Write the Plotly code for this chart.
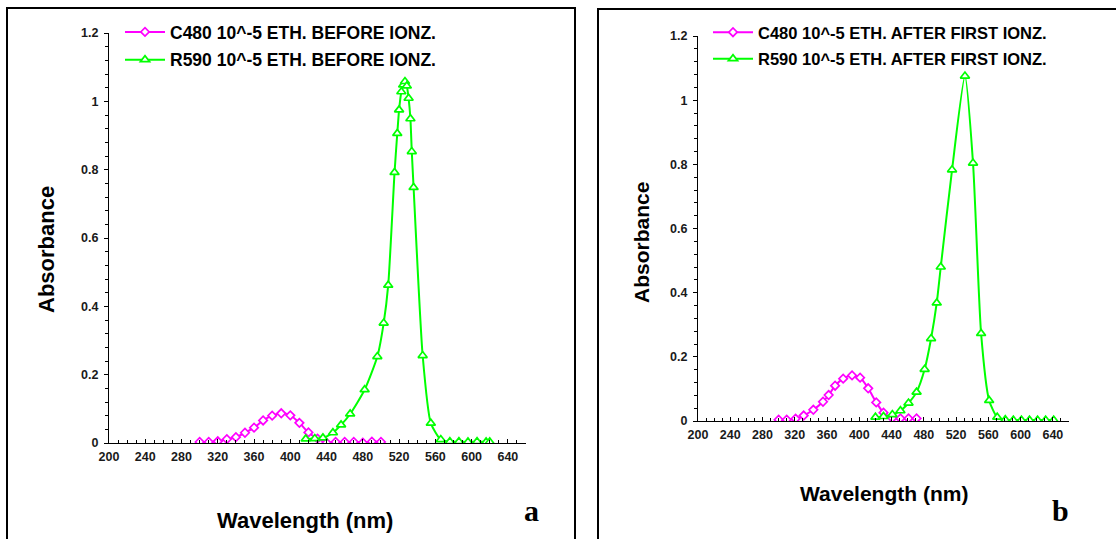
import plotly.graph_objects as go

# ---- Panel a: before ionization ----
c480_before_nm = [300, 310, 320, 330, 340, 350, 360, 370, 380, 390, 400,
                  410, 420, 430, 440, 450, 460, 470, 480, 490, 500]
c480_before_abs = [0.003, 0.003, 0.005, 0.011, 0.017, 0.030, 0.045, 0.066, 0.080, 0.087, 0.081,
                   0.059, 0.031, 0.013, 0.001, 0.003, 0.003, 0.003, 0.001, 0.004, 0.003]

r590_before_nm = [417, 427, 436, 447, 456, 466, 482, 496, 503, 508,
                  515, 518, 520, 522.5, 524.5, 526.5, 528.5, 530.5, 532.5, 534, 536,
                  546, 555, 566, 576, 586, 596, 606, 616, 620]
r590_before_abs = [0.012, 0.013, 0.015, 0.030, 0.053, 0.085, 0.156, 0.253, 0.351, 0.462,
                   0.792, 0.906, 0.975, 1.028, 1.048, 1.058, 1.045, 1.009, 0.949, 0.853, 0.748,
                   0.256, 0.058, 0.010, 0.004, 0.004, 0.003, 0.004, 0.003, 0.003]

# ---- Panel b: after first ionization ----
c480_after_nm = [300, 310, 321, 331, 343, 355, 362, 370, 380, 391, 401,
                 411, 421, 430, 441, 451, 461, 471]
c480_after_abs = [0.004, 0.004, 0.007, 0.017, 0.035, 0.060, 0.081, 0.110, 0.132, 0.142, 0.135,
                  0.102, 0.058, 0.026, 0.009, 0.008, 0.008, 0.008]

r590_after_nm = [420, 430, 441, 451, 461, 471, 481, 489, 496, 501,
                 515, 531, 541, 551, 561, 571, 581, 591, 601, 611, 621, 631, 641]
r590_after_abs = [0.012, 0.014, 0.020, 0.032, 0.056, 0.090, 0.161, 0.257, 0.368, 0.480,
                  0.783, 1.075, 0.804, 0.273, 0.064, 0.012, 0.004, 0.003, 0.003, 0.003, 0.003, 0.003, 0.003]

legend_a = ["C480 10^-5 ETH. BEFORE IONZ.", "R590 10^-5 ETH. BEFORE IONZ."]
legend_b = ["C480 10^-5 ETH. AFTER FIRST IONZ.", "R590 10^-5 ETH. AFTER FIRST IONZ."]

x_ticks = list(range(200, 641, 40))

MAGENTA = "#ff00ff"
GREEN = "#00ff00"
W, H = 1116, 539
FONT = "Liberation Sans, Arial, sans-serif"


def px_x(p):
    return p / W


def px_y(p):
    return 1 - p / H


fig = go.Figure()


def add_series(x, y, name, color, symbol, size, xa, ya, legend, group):
    fig.add_trace(go.Scatter(
        x=x, y=y, name=name, mode="lines+markers",
        line=dict(color=color, width=2, shape="spline", smoothing=0.6),
        marker=dict(symbol=symbol, size=size, color="white",
                    line=dict(color=color, width=1.7)),
        xaxis=xa, yaxis=ya, legend=legend, legendgroup=group,
    ))


add_series(c480_before_nm, c480_before_abs, legend_a[0], MAGENTA, "diamond", 6.5, "x", "y", "legend", "a1")
add_series(r590_before_nm, r590_before_abs, legend_a[1], GREEN, "triangle-up", 8, "x", "y", "legend", "a2")
add_series(c480_after_nm, c480_after_abs, legend_b[0], MAGENTA, "diamond", 6.5, "x2", "y2", "legend2", "b1")
add_series(r590_after_nm, r590_after_abs, legend_b[1], GREEN, "triangle-up", 8, "x2", "y2", "legend2", "b2")

tickfont = dict(family=FONT, size=12.5, color="#1a1a1a", weight="bold")


def xaxis_cfg(domain, anchor):
    return dict(
        domain=domain, anchor=anchor, range=[200, 660], automargin=False,
        tickmode="array", tickvals=x_ticks,
        ticks="inside", ticklen=4, tickwidth=1, tickcolor="black",
        minor=dict(dtick=10, tick0=200, ticks="inside", ticklen=3, tickcolor="black"),
        showline=True, linecolor="black", linewidth=1,
        showgrid=False, zeroline=False, tickfont=tickfont, ticklabelstandoff=2,
    )


def yaxis_cfg(domain, anchor):
    return dict(
        domain=domain, anchor=anchor, range=[0, 1.2], automargin=False,
        tick0=0, dtick=0.2,
        ticks="outside", ticklen=4, tickwidth=1, tickcolor="black",
        minor=dict(dtick=0.04, tick0=0, ticks="outside", ticklen=3, tickcolor="black"),
        showline=True, linecolor="black", linewidth=1,
        showgrid=False, zeroline=False, tickfont=tickfont, ticklabelstandoff=3,
    )


fig.update_layout(
    template="none",
    width=W, height=H,
    margin=dict(l=0, r=0, t=0, b=0, pad=0, autoexpand=False),
    paper_bgcolor="white", plot_bgcolor="white",
    xaxis=xaxis_cfg([px_x(109), px_x(526)], "y"),
    yaxis=yaxis_cfg([px_y(443), px_y(33)], "x"),
    xaxis2=xaxis_cfg([px_x(698), px_x(1069)], "y2"),
    yaxis2=yaxis_cfg([px_y(421), px_y(36)], "x2"),
    legend=dict(x=px_x(120), y=px_y(14), xanchor="left", yanchor="top",
                bgcolor="rgba(0,0,0,0)", borderwidth=0, tracegroupgap=2, itemwidth=40,
                font=dict(family=FONT, size=17.5, color="black", weight="bold")),
    legend2=dict(x=px_x(708), y=px_y(15), xanchor="left", yanchor="top",
                 bgcolor="rgba(0,0,0,0)", borderwidth=0, tracegroupgap=2, itemwidth=40,
                 font=dict(family=FONT, size=16.5, color="black", weight="bold")),
    showlegend=True,
)

# Panel frames
fig.add_shape(type="rect", xref="paper", yref="paper",
              x0=px_x(7), x1=px_x(575), y0=px_y(560), y1=px_y(8),
              line=dict(color="black", width=2))
fig.add_shape(type="rect", xref="paper", yref="paper",
              x0=px_x(598), x1=px_x(1130), y0=px_y(560), y1=px_y(9),
              line=dict(color="black", width=2))

title_font_a = dict(family=FONT, size=22, color="black", weight="bold")
title_font_b = dict(family=FONT, size=21, color="black", weight="bold")
serif_font = dict(family="Liberation Serif, Times New Roman, serif", size=30,
                  color="black", weight="bold")

annotations = [
    dict(text="Absorbance", x=px_x(46), y=px_y(250), textangle=-90, font=title_font_a),
    dict(text="Wavelength (nm)", x=px_x(305), y=px_y(520), font=title_font_a),
    dict(text="a", x=px_x(531), y=px_y(510), font=serif_font),
    dict(text="Absorbance", x=px_x(641), y=px_y(243), textangle=-90, font=title_font_b),
    dict(text="Wavelength (nm)", x=px_x(884), y=px_y(493), font=title_font_b),
    dict(text="b", x=px_x(1060), y=px_y(510), font=serif_font),
]
for a in annotations:
    a.update(xref="paper", yref="paper", showarrow=False, xanchor="center", yanchor="middle")
fig.update_layout(annotations=annotations)

fig.write_html("out.html")
